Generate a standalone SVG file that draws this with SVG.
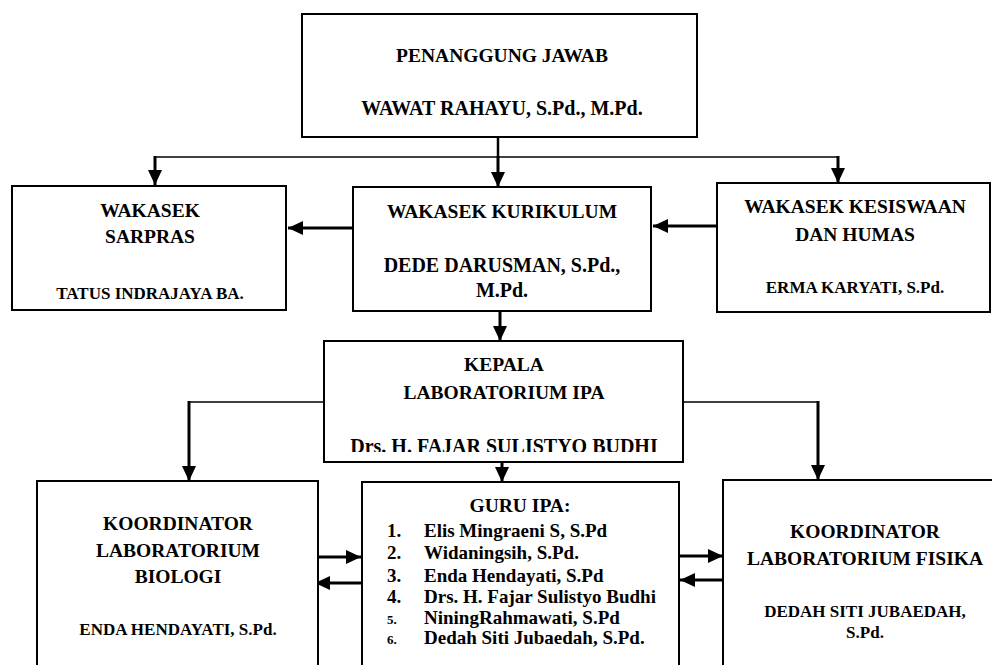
<svg xmlns="http://www.w3.org/2000/svg" width="992" height="665" viewBox="0 0 992 665">
<style>
.box{fill:#fff;stroke:#000;stroke-width:2}
text{font-family:"Liberation Serif","Times New Roman",serif;font-weight:bold;fill:#000}
.h{font-size:19.5px;text-anchor:middle}
.n{font-size:17px;text-anchor:middle}
.b{font-size:20px;text-anchor:middle}
.li{font-size:19px}
.sm{font-size:13px}
.thin{fill:none;stroke:#000;stroke-width:1.5}
.arr{fill:none;stroke:#000;stroke-width:3;marker-end:url(#ah)}
</style>
<defs>
<marker id="ah" markerUnits="userSpaceOnUse" markerWidth="16" markerHeight="14" refX="15" refY="7" orient="auto">
<path d="M0,0 L15,7 L0,14 z" fill="#000"/>
</marker>
<clipPath id="kclip"><rect x="324" y="341" width="359" height="111"/></clipPath>
</defs>
<rect width="992" height="665" fill="#fff"/>

<g id="connectors">
<line x1="498" y1="137" x2="498" y2="157" stroke="#000" stroke-width="2.5"/>
<line class="thin" x1="155" y1="157" x2="839" y2="157"/>
<line class="arr" x1="155" y1="156" x2="155" y2="185"/>
<line class="arr" x1="498" y1="156" x2="498" y2="187"/>
<line class="arr" x1="838" y1="156" x2="838" y2="183"/>
<line class="arr" x1="353" y1="228" x2="288" y2="228"/>
<line class="arr" x1="717" y1="226" x2="653" y2="226"/>
<line class="arr" x1="500" y1="312" x2="500" y2="341"/>
<polyline class="thin" points="324,402 189,402 189,420"/>
<line class="arr" x1="189" y1="401" x2="189" y2="481"/>
<polyline class="thin" points="683,402 818,402 818,420"/>
<line class="arr" x1="818" y1="401" x2="818" y2="480"/>
<line class="arr" x1="502" y1="462" x2="502" y2="482"/>
<line class="arr" x1="318" y1="557" x2="361" y2="557"/>
<line class="arr" x1="362" y1="583" x2="315" y2="583"/>
<line class="arr" x1="679" y1="556" x2="723" y2="556"/>
<line class="arr" x1="723" y1="580" x2="680" y2="580"/>
</g>

<g id="penanggung-jawab">
<rect class="box" x="302" y="14" width="395" height="123"/>
<text class="h" x="502" y="62">PENANGGUNG JAWAB</text>
<text class="b" x="502" y="115">WAWAT RAHAYU, S.Pd., M.Pd.</text>
</g>

<g id="wakasek-sarpras">
<rect class="box" x="12" y="186" width="274" height="124"/>
<text class="h" x="150" y="217">WAKASEK</text>
<text class="h" x="150" y="243">SARPRAS</text>
<text class="n" x="150" y="299">TATUS INDRAJAYA BA.</text>
</g>

<g id="wakasek-kurikulum">
<rect class="box" x="353" y="187" width="298" height="124"/>
<text class="h" x="502" y="218">WAKASEK KURIKULUM</text>
<text class="b" x="502" y="272">DEDE DARUSMAN, S.Pd.,</text>
<text class="b" x="502" y="297">M.Pd.</text>
</g>

<g id="wakasek-kesiswaan">
<rect class="box" x="717" y="183" width="273" height="129"/>
<text class="h" x="855" y="213">WAKASEK KESISWAAN</text>
<text class="h" x="855" y="241">DAN HUMAS</text>
<text class="n" x="855" y="293">ERMA KARYATI, S.Pd.</text>
</g>

<g id="kepala-lab">
<rect class="box" x="324" y="341" width="359" height="121"/>
<text class="h" x="504" y="371">KEPALA</text>
<text class="h" x="504" y="399">LABORATORIUM IPA</text>
<text class="b" x="504" y="453" clip-path="url(#kclip)">Drs. H. FAJAR SULISTYO BUDHI</text>
</g>

<g id="koordinator-biologi">
<rect class="box" x="37" y="481" width="281" height="200"/>
<text class="h" x="178" y="530">KOORDINATOR</text>
<text class="h" x="178" y="557">LABORATORIUM</text>
<text class="h" x="178" y="583">BIOLOGI</text>
<text class="n" x="178" y="635">ENDA HENDAYATI, S.Pd.</text>
</g>

<g id="guru-ipa">
<rect class="box" x="362" y="482" width="317" height="200"/>
<text class="h" x="520" y="512">GURU IPA:</text>
<text class="li" x="387" y="537">1.</text><text class="li" x="424" y="537">Elis Mingraeni S, S.Pd</text>
<text class="li" x="387" y="559">2.</text><text class="li" x="424" y="559">Widaningsih, S.Pd.</text>
<text class="li" x="387" y="582">3.</text><text class="li" x="424" y="582">Enda Hendayati, S.Pd</text>
<text class="li" x="387" y="603">4.</text><text class="li" x="424" y="603">Drs. H. Fajar Sulistyo Budhi</text>
<text class="sm" x="387" y="624">5.</text><text class="li" x="424" y="624">NiningRahmawati, S.Pd</text>
<text class="sm" x="387" y="644">6.</text><text class="li" x="424" y="644">Dedah Siti Jubaedah, S.Pd.</text>
</g>

<g id="koordinator-fisika">
<rect class="box" x="723" y="480" width="285" height="200"/>
<text class="h" x="865" y="538">KOORDINATOR</text>
<text class="h" x="865" y="565">LABORATORIUM FISIKA</text>
<text class="n" x="865" y="617">DEDAH SITI JUBAEDAH,</text>
<text class="n" x="865" y="638">S.Pd.</text>
</g>
</svg>
